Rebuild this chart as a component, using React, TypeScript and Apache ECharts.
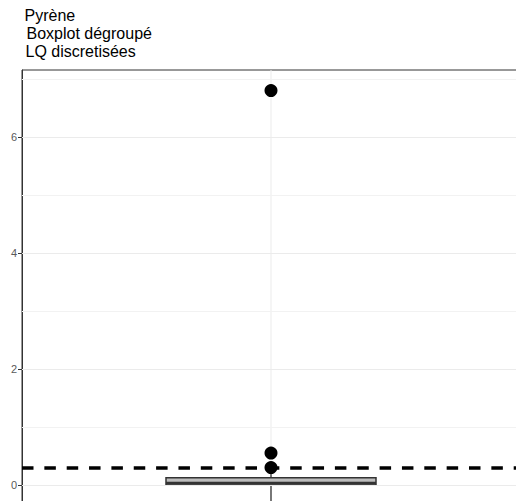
import React, { useEffect, useRef } from "react";
import * as echarts from "echarts";

const categories = ["Pyrène"];
// [category index, lower whisker, Q1, median, Q3, upper whisker]
const boxStats = [[0, -0.3, -0.005, 0.03, 0.125, 0.2]];
const outliers = [6.8, 0.55, 0.3];
const lqLevel = 0.3;
const majorGrid = [0, 2, 4, 6];
const minorGrid = [1, 3, 5, 7];
const yTicks = [0, 2, 4, 6];
const yRange = [-0.655, 7.155];
const titleLines = ["Pyrène", "Boxplot dégroupé", "LQ discretisées"];

const FONT = "'Liberation Sans', Arial, Helvetica, sans-serif";

export default function App() {
  const ref = useRef<HTMLDivElement>(null);
  useEffect(() => {
    if (!ref.current) return;
    const chart = echarts.init(ref.current, null, { renderer: "svg" });
    const markLineBase = { silent: true, symbol: "none", label: { show: false }, emphasis: { disabled: true } };
    chart.setOption({
      animation: false,
      backgroundColor: "#ffffff",
      textStyle: { fontFamily: FONT },
      graphic: [
        { type: "text", left: 24.5, top: 7, style: { text: titleLines[0], font: `16px ${FONT}`, fill: "#000" } },
        { type: "text", left: 26.5, top: 25, style: { text: titleLines[1], font: `16px ${FONT}`, fill: "#000" } },
        { type: "text", left: 25.5, top: 43, style: { text: titleLines[2], font: `16px ${FONT}`, fill: "#000" } },
      ],
      grid: {
        left: 22,
        top: 70,
        width: 498,
        height: 453,
        show: true,
        borderColor: "#333333",
        borderWidth: 1,
        backgroundColor: "transparent",
        containLabel: false,
      },
      xAxis: {
        type: "category",
        data: categories,
        boundaryGap: true,
        axisLine: { show: false },
        axisTick: { show: false },
        axisLabel: { show: false },
        splitLine: { show: false },
      },
      yAxis: {
        type: "value",
        min: yRange[0],
        max: yRange[1],
        axisLine: { show: true, onZero: false, lineStyle: { color: "#333333", width: 1 } },
        axisTick: { show: true, length: 4, lineStyle: { color: "#333333", width: 1 }, customValues: yTicks },
        axisLabel: { color: "#5a5a5a", fontSize: 11, margin: 5, fontFamily: FONT, customValues: yTicks },
        splitLine: { show: false },
      },
      series: [
        {
          type: "scatter",
          data: [],
          silent: true,
          z: 1,
          markLine: {
            ...markLineBase,
            lineStyle: { color: "#ebebeb", width: 1, type: "solid", opacity: 1 },
            data: majorGrid.map((v) => ({ yAxis: v })),
          },
        },
        {
          type: "scatter",
          data: [],
          silent: true,
          z: 1,
          markLine: {
            ...markLineBase,
            lineStyle: { color: "#f2f2f2", width: 1, type: "solid", opacity: 1 },
            data: minorGrid.map((v) => ({ yAxis: v })),
          },
        },
        {
          type: "custom",
          z: 3,
          silent: true,
          data: boxStats,
          encode: { x: 0, y: [1, 2, 3, 4, 5] },
          renderItem: (params: any, api: any) => {
            const x = api.value(0);
            const lo = api.coord([x, api.value(1)]);
            const q1 = api.coord([x, api.value(2)]);
            const med = api.coord([x, api.value(3)]);
            const q3 = api.coord([x, api.value(4)]);
            const hi = api.coord([x, api.value(5)]);
            const top = api.coord([x, yRange[1]]);
            const bottom = api.coord([x, yRange[0]]);
            const band = api.size([1, 0])[0];
            const w = band * 0.4217;
            const cx = q1[0];
            return {
              type: "group",
              children: [
                { type: "line", shape: { x1: cx, y1: top[1], x2: cx, y2: bottom[1] }, style: { stroke: "#ebebeb", lineWidth: 1 } },
                { type: "line", shape: { x1: cx, y1: lo[1], x2: cx, y2: q1[1] }, style: { stroke: "#333333", lineWidth: 1.3 } },
                { type: "line", shape: { x1: cx, y1: q3[1], x2: cx, y2: hi[1] }, style: { stroke: "#333333", lineWidth: 1.3 } },
                {
                  type: "rect",
                  shape: { x: cx - w / 2, y: q3[1], width: w, height: q1[1] - q3[1] },
                  style: { fill: "#bdbdbd", stroke: "#333333", lineWidth: 1.5 },
                },
                { type: "line", shape: { x1: cx - w / 2, y1: med[1], x2: cx + w / 2, y2: med[1] }, style: { stroke: "#333333", lineWidth: 3 } },
              ],
            };
          },
        },
        {
          type: "scatter",
          z: 4,
          data: outliers.map((v) => [0, v]),
          symbol: "circle",
          symbolSize: 13,
          itemStyle: { color: "#000000", opacity: 1 },
          silent: true,
        },
        {
          type: "scatter",
          data: [],
          z: 5,
          silent: true,
          markLine: {
            ...markLineBase,
            data: [{ yAxis: lqLevel }],
            lineStyle: { color: "#000000", width: 3.5, type: [11.5, 10.85], opacity: 1 },
          },
        },
      ],
    });
    return () => chart.dispose();
  }, []);
  return (
    <div style={{ position: "absolute", left: 0, top: 0, width: 516, height: 501, overflow: "hidden" }}>
      <div ref={ref} style={{ width: 540, height: 540 }} />
    </div>
  );
}
